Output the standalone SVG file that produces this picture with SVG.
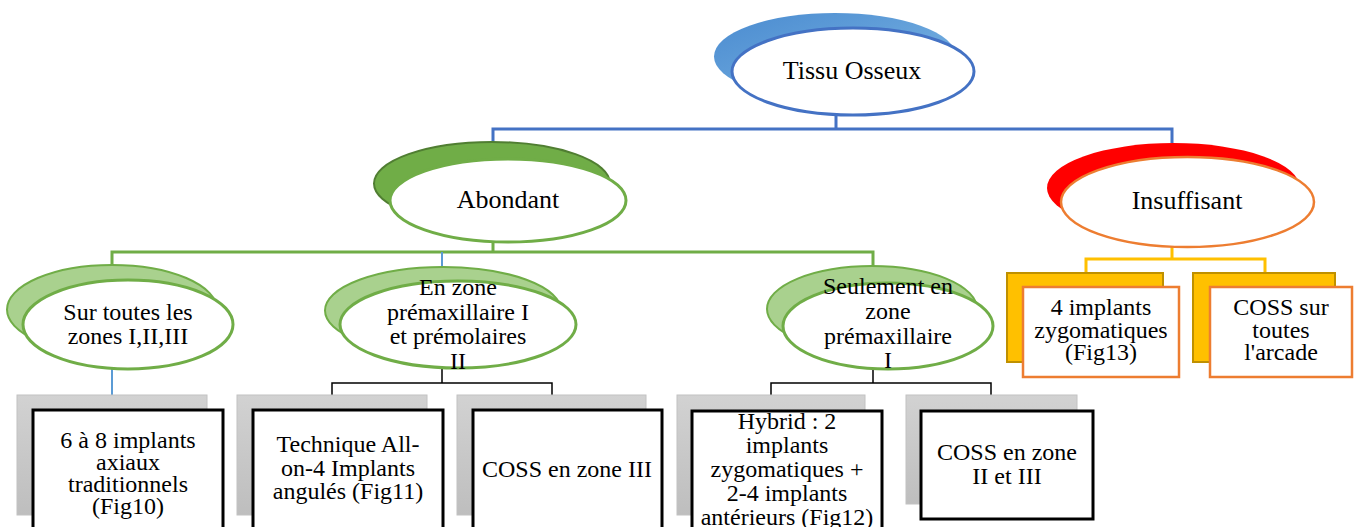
<svg xmlns="http://www.w3.org/2000/svg" width="1356" height="527" viewBox="0 0 1356 527">
<defs>
<linearGradient id="gBlue" x1="0" y1="0" x2="1" y2="1">
<stop offset="0" stop-color="#4A8BD0"/><stop offset="0.6" stop-color="#6AA6DC"/><stop offset="1" stop-color="#7DB3E3"/>
</linearGradient>
<linearGradient id="gGrey" x1="0" y1="0" x2="0" y2="1">
<stop offset="0" stop-color="#D2D2D2"/><stop offset="1" stop-color="#BEBEBE"/>
</linearGradient>
<style>
text{font-family:'Liberation Serif','Times New Roman','DejaVu Serif',serif;fill:#000;text-anchor:middle}
.t26{font-size:26px}
.t24{font-size:24px}
.front{fill:#fff}
.fb{stroke:#4472C4;stroke-width:3}
.fg{stroke:#70AD47;stroke-width:3}
.fo{stroke:#ED7D31;stroke-width:2.5}
.backG{fill:#A9D18E;stroke:#70AD47;stroke-width:2}
.grey{fill:url(#gGrey);stroke:#C2C2C2;stroke-width:1}
.wbox{fill:#fff;stroke:#000;stroke-width:3}
.ybox{fill:#FFC000;stroke:#BF9000;stroke-width:2}
.obox{fill:#fff;stroke:#ED7D31;stroke-width:2.5}
.c{fill:none}
</style>
</defs>

<g id="connectors">
<path class="c" d="M836,115 V129 M493,142 V129 H1172 V143" stroke="#4472C4" stroke-width="3"/>
<path class="c" d="M493,242 V252 M112,266 V252 H873 V266" stroke="#70AD47" stroke-width="3"/>
<path class="c" d="M442,252 V268 M112,369 V395" stroke="#5B9BD5" stroke-width="2"/>
<path class="c" d="M442,368 V383 M332,395 V383 H552 V395 M873,369 V383 M771,395 V383 H991 V395" stroke="#000" stroke-width="1.5"/>
<path class="c" d="M1172,247 V259 M1086,273 V259 H1265 V273" stroke="#FFC000" stroke-width="3"/>
</g>

<g id="tissu" font-family="Liberation Serif, serif">
<ellipse cx="835" cy="56.5" rx="121" ry="43.5" fill="url(#gBlue)"/>
<ellipse class="front fb" cx="853" cy="71.5" rx="121" ry="43.5"/>
<text class="t26" x="852" y="79">Tissu Osseux</text>
</g>

<g id="abondant">
<ellipse cx="492" cy="183.5" rx="118" ry="41.5" fill="#70AD47" stroke="#507E32" stroke-width="2"/>
<ellipse class="front fg" cx="508" cy="200.5" rx="118" ry="41.5"/>
<text class="t26" x="508" y="208">Abondant</text>
</g>

<g id="insuffisant">
<ellipse cx="1173.5" cy="188" rx="126.5" ry="45" fill="#FF0000"/>
<ellipse class="front fo" cx="1187.5" cy="202" rx="126.5" ry="45"/>
<text class="t26" x="1187" y="209">Insuffisant</text>
</g>

<g id="sur-toutes">
<ellipse class="backG" cx="112" cy="309.5" rx="105" ry="44.5"/>
<ellipse class="front fg" cx="128" cy="324.5" rx="105" ry="44.5"/>
<text class="t24" x="128" y="320">Sur toutes les</text>
<text class="t24" x="128" y="344">zones I,II,III</text>
</g>

<g id="en-zone">
<ellipse class="backG" cx="443" cy="310.5" rx="118" ry="43.5"/>
<ellipse class="front fg" cx="458" cy="324.5" rx="118" ry="43.5"/>
<text class="t24" x="458" y="295">En zone</text>
<text class="t24" x="458" y="320">prémaxillaire I</text>
<text class="t24" x="458" y="344">et prémolaires</text>
<text class="t24" x="458" y="369">II</text>
</g>

<g id="seulement">
<ellipse class="backG" cx="872" cy="309" rx="105" ry="43"/>
<ellipse class="front fg" cx="888" cy="326" rx="105" ry="43"/>
<text class="t24" x="888" y="294">Seulement en</text>
<text class="t24" x="888" y="319">zone</text>
<text class="t24" x="888" y="344">prémaxillaire</text>
<text class="t24" x="888" y="368">I</text>
</g>

<g id="box-6a8">
<rect class="grey" x="17" y="395" width="190" height="120"/>
<rect class="wbox" x="33" y="410" width="190" height="130"/>
<text class="t24" x="128" y="448">6 à 8 implants</text>
<text class="t24" x="128" y="470">axiaux</text>
<text class="t24" x="128" y="492">traditionnels</text>
<text class="t24" x="128" y="514">(Fig10)</text>
</g>

<g id="box-allon4">
<rect class="grey" x="237" y="395" width="190" height="120"/>
<rect class="wbox" x="253" y="410" width="190" height="130"/>
<text class="t24" x="348" y="452">Technique All-</text>
<text class="t24" x="348" y="476">on-4 Implants</text>
<text class="t24" x="348" y="499">angulés (Fig11)</text>
</g>

<g id="box-coss3">
<rect class="grey" x="457" y="395" width="189" height="120"/>
<rect class="wbox" x="473" y="410" width="189" height="130"/>
<text class="t24" x="567" y="477">COSS en zone III</text>
</g>

<g id="box-hybrid">
<rect class="grey" x="677" y="395" width="188" height="120"/>
<rect class="wbox" x="692" y="411" width="190" height="130"/>
<text class="t24" x="787" y="429">Hybrid : 2</text>
<text class="t24" x="787" y="453">implants</text>
<text class="t24" x="787" y="477">zygomatiques +</text>
<text class="t24" x="787" y="501">2-4 implants</text>
<text class="t24" x="787" y="525">antérieurs (Fig12)</text>
</g>

<g id="box-coss23">
<rect class="grey" x="906" y="395" width="171" height="109"/>
<rect class="wbox" x="921" y="411" width="172" height="108"/>
<text class="t24" x="1007" y="460">COSS en zone</text>
<text class="t24" x="1007" y="484">II et III</text>
</g>

<g id="box-zygo4">
<rect class="ybox" x="1007" y="273" width="156" height="89"/>
<rect class="obox" x="1023" y="287" width="156" height="90"/>
<text class="t24" x="1101" y="315">4 implants</text>
<text class="t24" x="1101" y="338">zygomatiques</text>
<text class="t24" x="1101" y="360">(Fig13)</text>
</g>

<g id="box-coss-arcade">
<rect class="ybox" x="1193" y="273" width="142" height="89"/>
<rect class="obox" x="1210" y="287" width="142" height="90"/>
<text class="t24" x="1281" y="315">COSS sur</text>
<text class="t24" x="1281" y="338">toutes</text>
<text class="t24" x="1281" y="360">l'arcade</text>
</g>
</svg>
